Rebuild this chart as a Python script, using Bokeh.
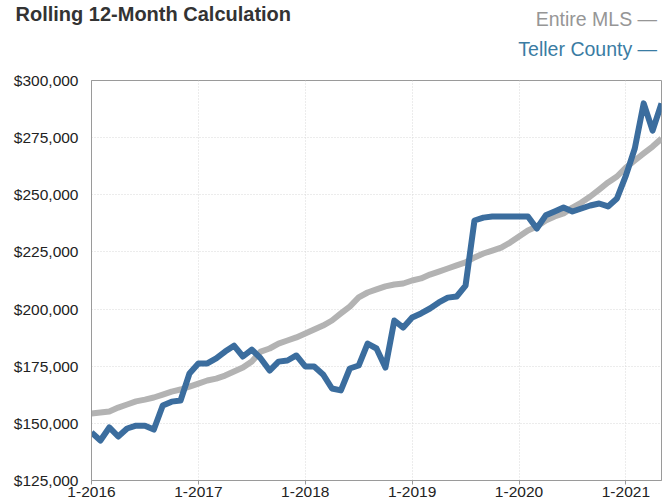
from bokeh.plotting import figure
from bokeh.layouts import column
from bokeh.models import FixedTicker, Range1d, NumeralTickFormatter
from bokeh.core.properties import value
from bokeh.embed import file_html
from bokeh.resources import INLINE

# Month index 0 = Jan 2016
months = list(range(65))
x_tick_months = [0, 12, 24, 36, 48, 60]
x_tick_labels = ["1-2016", "1-2017", "1-2018", "1-2019", "1-2020", "1-2021"]
y_ticks = [125000, 150000, 175000, 200000, 225000, 250000, 275000, 300000]

entire_mls = [
    154300, 154750, 155200, 156900, 158250, 159600, 160400, 161300, 162600, 163900,
    164800, 166100, 167400, 168750, 169600, 170900, 172700, 174400, 177100, 181400,
    182750, 184900, 186250, 187600, 189300, 191100, 192800, 195000, 198100, 201100,
    205100, 207250, 208600, 209900, 210750, 211200, 212500, 213400, 215100, 216400,
    217750, 219100, 220400, 222600, 224300, 225600, 226900, 229100, 231750, 234400,
    236100, 238750, 240500, 241800, 244400, 246600, 249250, 252300, 255400, 258000,
    261900, 265000, 268100, 271100, 274600,
]

teller_county = [
    146000, 142500, 148200, 144250, 147750, 149000, 149000, 147300, 157800, 159500,
    160000, 171800, 176200, 176200, 178400, 181400, 184000, 179250, 182300, 178400,
    173100, 177000, 177500, 179700, 174900, 174900, 171400, 165250, 164400, 174000,
    175300, 184900, 182750, 174400, 195000, 191900, 196300, 198100, 200250, 202900,
    205000, 205500, 210300, 238750, 240000, 240500, 240500, 240500, 240500, 240500,
    235250, 241000, 242700, 244400, 242700, 244000, 245300, 246200, 244900, 248400,
    258400, 270250, 290000, 278100, 290000,
]

title_text = "Rolling 12-Month Calculation"
series_names = ["Entire MLS", "Teller County"]
series_colors = ["#b3b3b3", "#3b6d9e"]
legend_text_colors = ["#969696", "#3a7ca3"]

FONT = "Liberation Sans"
W = 667
HEADER_H = 70

# ---- header (title + legend), a figure whose frame is the whole canvas ----
hdr = figure(width=W, height=HEADER_H, output_backend="svg", toolbar_location=None,
             x_range=Range1d(0, W), y_range=Range1d(HEADER_H, 0),
             x_axis_location=None, y_axis_location=None,
             min_border=0, min_border_left=0, min_border_right=0,
             min_border_top=0, min_border_bottom=0)
hdr.frame_align = False
hdr.grid.visible = False
hdr.outline_line_color = None
hdr.background_fill_color = "white"
hdr.border_fill_color = "white"

hdr.text(x=[15], y=[2], text=[title_text], text_font=value(FONT),
         text_font_size="20px", text_font_style="bold", text_color="#333333",
         text_baseline="top", text_align="left")
hdr.text(x=[662, 662], y=[18, 48],
         text=[n + "  \u2014" for n in series_names],
         text_color=legend_text_colors, text_font=value(FONT),
         text_font_size="19.5px", text_baseline="middle", text_align="right")

# ---- main chart ----
LEFT, RIGHT, TOP, BOTTOM = 91, 6, 10, 23
p = figure(
    width=W, height=503 - HEADER_H,
    output_backend="svg", toolbar_location=None,
    x_range=Range1d(0, 64), y_range=Range1d(125000, 300000),
    min_border_left=LEFT, min_border_right=RIGHT, min_border_top=TOP, min_border_bottom=BOTTOM,
)
p.frame_align = False
p.background_fill_color = "white"
p.border_fill_color = "white"
p.outline_line_color = "#9a9a9a"
p.outline_line_width = 1

p.line(months, entire_mls, line_color=series_colors[0], line_width=6, line_join="round")
p.line(months, teller_county, line_color=series_colors[1], line_width=6, line_join="round")

p.xaxis.ticker = FixedTicker(ticks=x_tick_months)
p.xaxis.major_label_overrides = {m: lab for m, lab in zip(x_tick_months, x_tick_labels)}
p.yaxis.ticker = FixedTicker(ticks=y_ticks)
p.yaxis.formatter = NumeralTickFormatter(format="$0,0")

for ax in (p.xaxis[0], p.yaxis[0]):
    ax.axis_line_color = "#9a9a9a"
    ax.major_label_text_font = FONT
    ax.major_label_text_font_size = "15.5px"
    ax.major_label_text_color = "#222222"
    ax.minor_tick_line_color = None
    ax.major_tick_line_color = "#9a9a9a"

p.xaxis.major_tick_in = 0
p.xaxis.major_tick_out = 4
p.xaxis.major_label_standoff = 2
p.yaxis.major_tick_in = 0
p.yaxis.major_tick_out = 0
p.yaxis.major_label_standoff = 13

p.grid.grid_line_color = "#d9d9d9"
p.grid.grid_line_dash = "1 2"
p.grid.grid_line_width = 1

layout = column(hdr, p, spacing=0)
open("out.html", "w").write(file_html(layout, INLINE))
